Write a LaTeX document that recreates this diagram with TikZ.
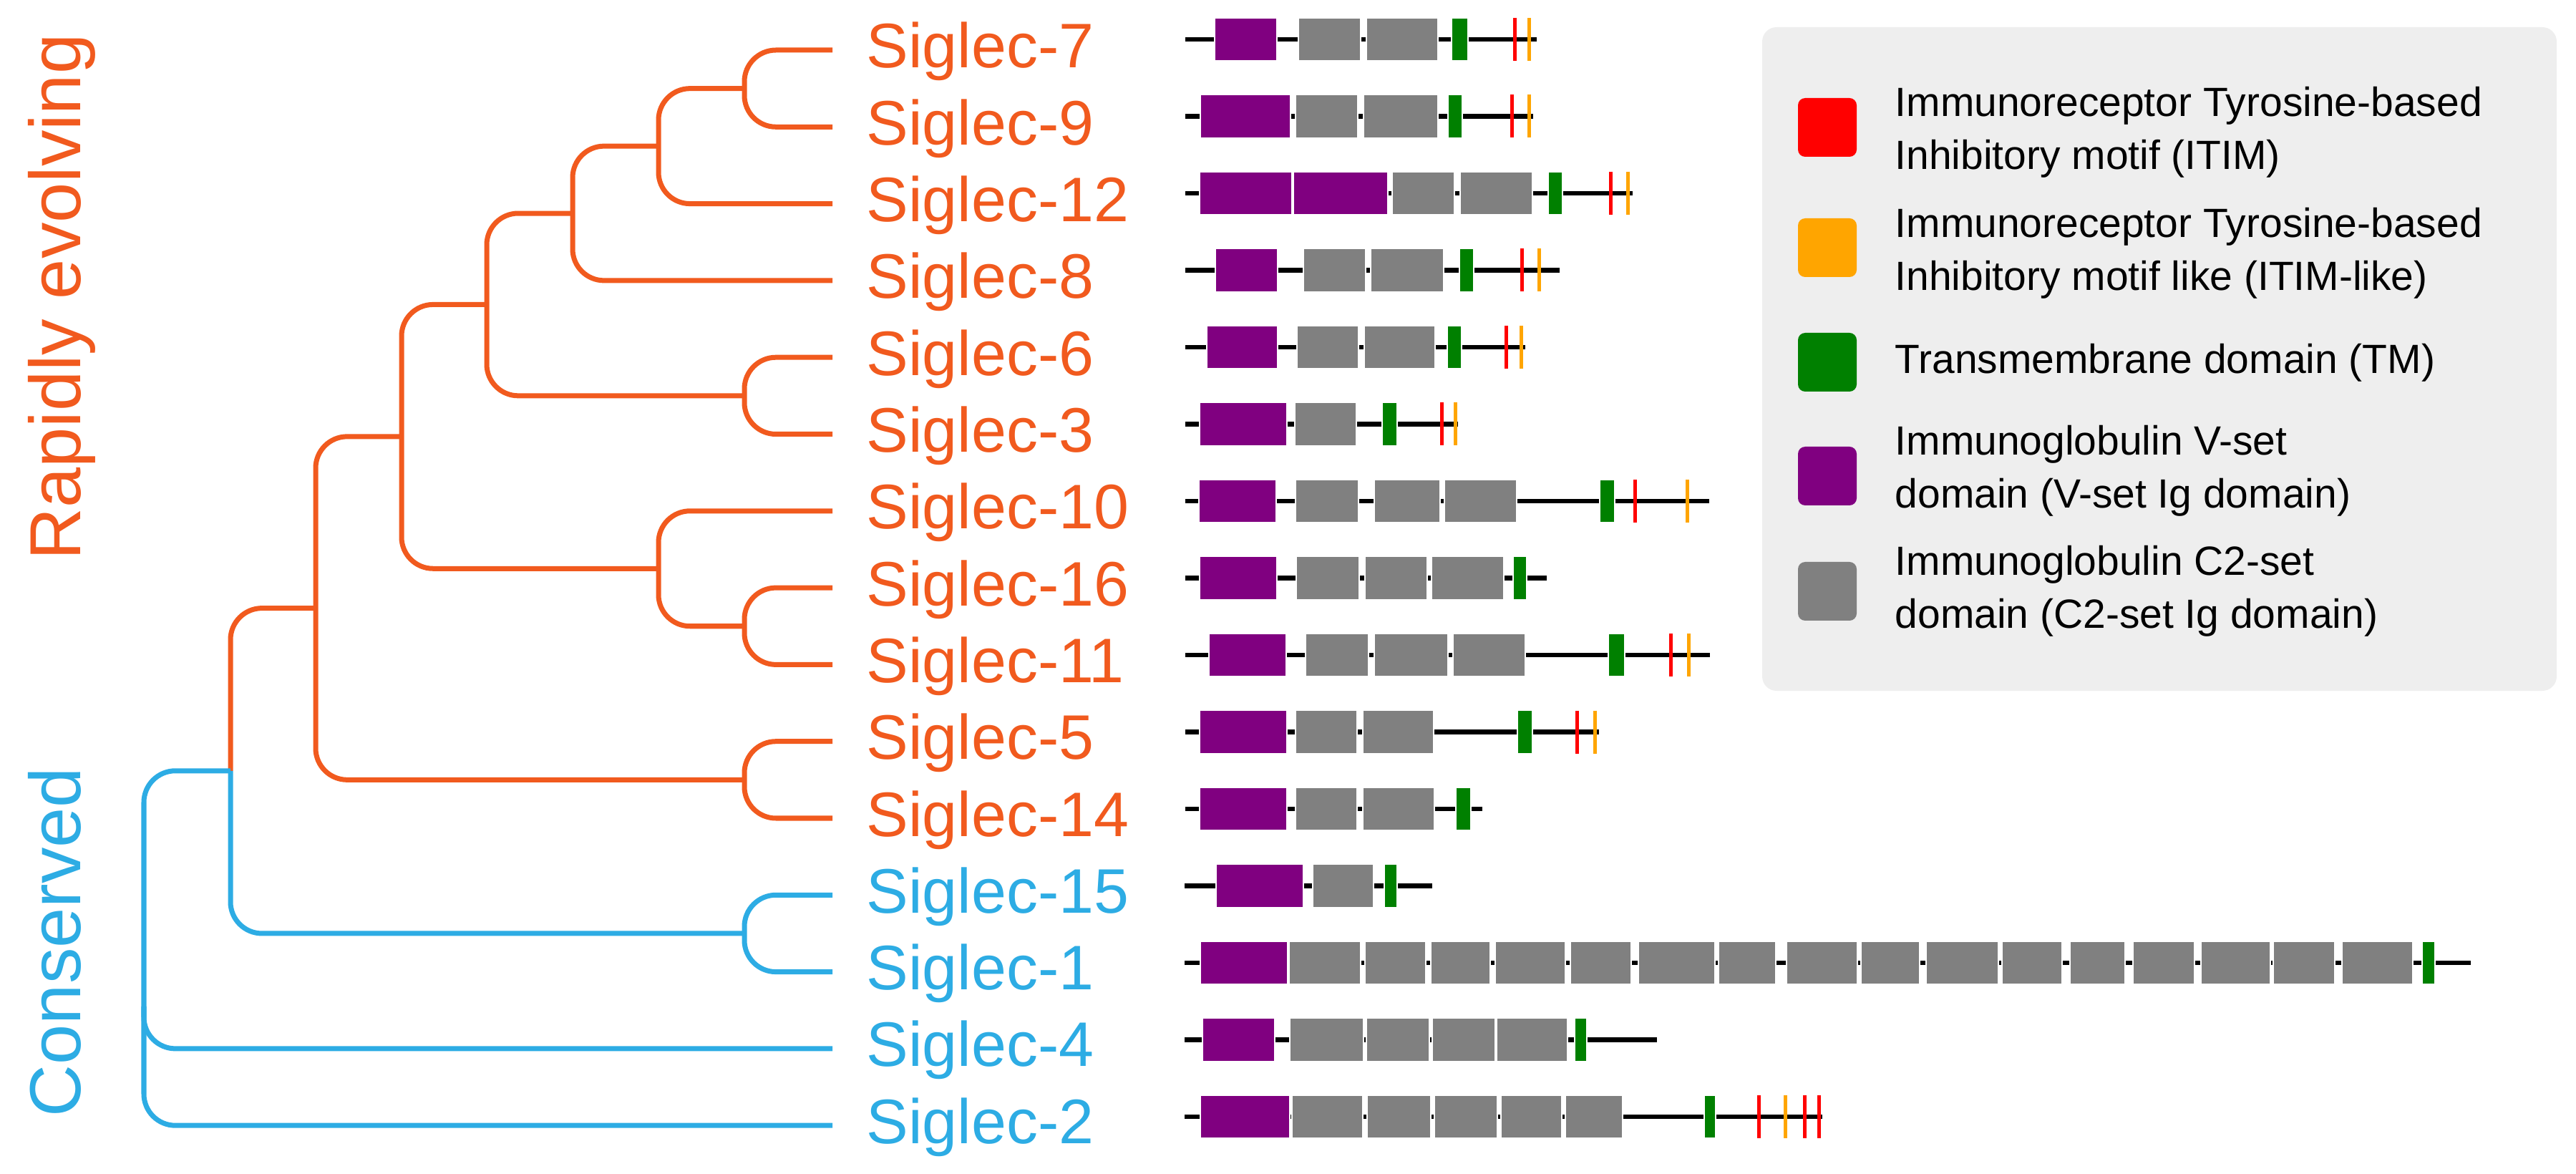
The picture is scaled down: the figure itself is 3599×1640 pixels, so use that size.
\documentclass[tikz,border=0pt]{standalone}
\usepackage{fontspec}
\setmainfont{Liberation Sans}
\usetikzlibrary{positioning}

\definecolor{evolcol}{RGB}{241,90,30}
\definecolor{conscol}{RGB}{45,172,228}
\definecolor{itim}{RGB}{255,0,0}
\definecolor{itimlike}{RGB}{255,165,0}
\definecolor{tm}{RGB}{0,128,0}
\definecolor{vset}{RGB}{128,0,128}
\definecolor{cset}{RGB}{128,128,128}
\definecolor{keyback}{RGB}{238,238,238}

\tikzset{
	branch/.style = {line width = 0.07cm, rounded corners = 0.44cm},
	leaf/.style = {anchor = base west, inner sep = 0pt, font = \fontsize{25}{30}\selectfont},
	title/.style = {anchor = base, rotate = 90, inner sep = 0pt, font = \fontsize{28.7}{34}\selectfont},
	backbone/.style = {line width = 0.065cm, black},
	dombox/.style = {draw = white, line width = 0.015cm},
	motiftick/.style = {line width = 0.05cm},
	keytext/.style = {anchor = west, align = left, inner sep = 0pt, font = \fontsize{16.2}{21}\selectfont}
}

\begin{document}
\begin{tikzpicture}[x = 0.01cm, y = -0.01cm]

	% Definition
	
	\def\T{55};
	\def\R{107.5};
	\def\H{30};
	\def\Tt{70};
	\def\Rt{107.3};
	
	\useasboundingbox (0, 0) rectangle (3599, 1640);
	
	% Group titles
	
	\node [title, text = evolcol] (rapid) at (112, 415) {Rapidly evolving};
	\node [title, text = conscol] (conserved) at (113, 1316) {Conserved};
	
	% Leaves and labels
	
	\foreach \num/\r/\col in {7/0/evolcol, 9/1/evolcol, 12/2/evolcol, 8/3/evolcol, 6/4/evolcol, 3/5/evolcol, 10/6/evolcol, 16/7/evolcol, 11/8/evolcol, 5/9/evolcol, 14/10/evolcol, 15/11/conscol, 1/12/conscol, 4/13/conscol, 2/14/conscol}
	{
		\coordinate (s\num) at (1163, {\Tt + \Rt * \r});
		\node [leaf, text = \col] (label\num) at (1210, {\Tt + \Rt * \r + 25}) {Siglec-\num};
	}
	
	% Inner nodes of the tree
	
	\coordinate (n79) at (1040, {\Tt + \Rt * 0.5});
	\coordinate (n712) at (920, {\Tt + \Rt * 1.25});
	\coordinate (n78) at (800, {\Tt + \Rt * 2.125});
	\coordinate (n63) at (1040, {\Tt + \Rt * 4.5});
	\coordinate (n73) at (680, {\Tt + \Rt * 3.3125});
	\coordinate (n1611) at (1040, {\Tt + \Rt * 7.5});
	\coordinate (n1011) at (920, {\Tt + \Rt * 6.75});
	\coordinate (n711) at (561, {\Tt + \Rt * 5.03125});
	\coordinate (n514) at (1040, {\Tt + \Rt * 9.5});
	\coordinate (n714) at (441, {\Tt + \Rt * 7.265625});
	\coordinate (n151) at (1040, {\Tt + \Rt * 11.5});
	\coordinate (split) at (322, {\Tt + \Rt * 9.3828});
	\coordinate (root) at (201, {\Tt + \Rt * 9.3828});
	\coordinate (fork4) at (201, {\Tt + \Rt * 12.45});
	
	% Branches
	
	\draw [branch, evolcol] (s7) -| (n79 |- s9) -- (s9);
	\draw [branch, evolcol] (n79) -| (n712 |- s12) -- (s12);
	\draw [branch, evolcol] (n712) -| (n78 |- s8) -- (s8);
	\draw [branch, evolcol] (s6) -| (n63 |- s3) -- (s3);
	\draw [branch, evolcol] (n78) -| (n73 |- n63) -- (n63);
	\draw [branch, evolcol] (s16) -| (n1611 |- s11) -- (s11);
	\draw [branch, evolcol] (s10) -| (n1011 |- n1611) -- (n1611);
	\draw [branch, evolcol] (n73) -| (n711 |- n1011) -- (n1011);
	\draw [branch, evolcol] (s5) -| (n514 |- s14) -- (s14);
	\draw [branch, evolcol] (n711) -| (n714 |- n514) -- (n514);
	\draw [branch, evolcol] (n714) -| (split);
	\draw [branch, conscol] (s15) -| (n151 |- s1) -- (s1);
	\draw [branch, conscol] (split) |- (n151);
	\draw [branch, conscol] (split) -- (root) |- (s2);
	\draw [branch, conscol] (fork4) |- (s4);
	
	% Backbones
	
	\foreach \r/\a/\b in {0/1656/2147, 1/1656/2142, 2/1656/2281, 3/1656/2179, 4/1656/2131, 5/1656/2037, 6/1656/2388, 7/1656/2161, 8/1656/2389, 9/1656/2234, 10/1656/2071, 11/1655/2001, 12/1655/3452, 13/1655/2315, 14/1655/2546}
		\draw [backbone] (\a, {\T + \R * \r}) -- (\b, {\T + \R * \r});
	
	% Domains
	
	\foreach \r/\a/\b/\col in {0/1697/1784/vset, 0/1814/1901/cset, 0/1909/2009/cset, 0/2028/2051/tm,
		1/1677/1803/vset, 1/1810/1897/cset, 1/1905/2009/cset, 1/2023/2043/tm,
		2/1676/1805/vset, 2/1807/1939/vset, 2/1945/2032/cset, 2/2040/2141/cset, 2/2163/2183/tm,
		3/1698/1785/vset, 3/1821/1908/cset, 3/1915/2017/cset, 3/2039/2059/tm,
		4/1686/1785/vset, 4/1812/1898/cset, 4/1906/2005/cset, 4/2022/2042/tm,
		5/1676/1798/vset, 5/1809/1895/cset, 5/1931/1952/tm,
		6/1675/1783/vset, 6/1810/1898/cset, 6/1920/2012/cset, 6/2018/2119/cset, 6/2235/2256/tm,
		7/1676/1784/vset, 7/1811/1899/cset, 7/1907/1994/cset, 7/2000/2101/cset, 7/2114/2133/tm,
		8/1689/1797/vset, 8/1824/1912/cset, 8/1920/2023/cset, 8/2030/2131/cset, 8/2247/2270/tm,
		9/1676/1798/vset, 9/1810/1896/cset, 9/1904/2003/cset, 9/2120/2141/tm,
		10/1676/1798/vset, 10/1810/1896/cset, 10/1904/2004/cset, 10/2034/2055/tm,
		11/1699/1821/vset, 11/1834/1919/cset, 11/1934/1952/tm,
		12/1677/1799/vset, 12/1801/1901/cset, 12/1907/1992/cset, 12/1999/2082/cset, 12/2089/2187/cset,
		12/2194/2279/cset, 12/2289/2396/cset, 12/2401/2481/cset, 12/2496/2595/cset, 12/2600/2682/cset,
		12/2691/2792/cset, 12/2797/2881/cset, 12/2892/2969/cset, 12/2980/3066/cset, 12/3075/3172/cset,
		12/3176/3262/cset, 12/3272/3371/cset, 12/3384/3402/tm,
		13/1680/1781/vset, 13/1802/1905/cset, 13/1909/1997/cset, 13/2001/2089/cset, 13/2091/2190/cset, 13/2200/2217/tm,
		14/1677/1802/vset, 14/1805/1904/cset, 14/1910/1999/cset, 14/2004/2092/cset, 14/2097/2182/cset, 14/2187/2267/cset, 14/2381/2397/tm}
		\filldraw [dombox, fill = \col] (\a, {\T + \R * \r - \H}) rectangle (\b, {\T + \R * \r + \H});
	
	% Motifs
	
	\foreach \r/\x/\col in {0/2116/itim, 0/2136/itimlike, 1/2112/itim, 1/2136/itimlike, 2/2250/itim, 2/2274/itimlike, 3/2126/itim, 3/2150/itimlike, 4/2104/itim, 4/2125/itimlike, 5/2014/itim, 5/2033/itimlike, 6/2284/itim, 6/2357/itimlike, 8/2334/itim, 8/2359/itimlike, 9/2203/itim, 9/2228/itimlike, 14/2457/itim, 14/2494/itimlike, 14/2521/itim, 14/2541/itim}
		\draw [motiftick, \col] (\x, {\T + \R * \r - \H}) -- (\x, {\T + \R * \r + \H});
	
	% Key
	
	\fill [keyback, rounded corners = 0.2cm] (2462, 38) rectangle (3572, 965);
	
	\foreach \col/\y in {itim/178, itimlike/346, tm/506, vset/665, cset/826}
		\fill [\col, rounded corners = 0.1cm] (2512, {\y - 41}) rectangle (2594, {\y + 41});
	
	\node [keytext] (keyitim) at (2647, 185) {Immunoreceptor Tyrosine-based\\Inhibitory motif (ITIM)};
	\node [keytext] (keylike) at (2647, 354) {Immunoreceptor Tyrosine-based\\Inhibitory motif like (ITIM-like)};
	\node [keytext] (keytm) at (2647, 507) {Transmembrane domain (TM)};
	\node [keytext] (keyvset) at (2647, 658) {Immunoglobulin V-set\\domain (V-set Ig domain)};
	\node [keytext] (keycset) at (2647, 826) {Immunoglobulin C2-set\\domain (C2-set Ig domain)};

\end{tikzpicture}
\end{document}
